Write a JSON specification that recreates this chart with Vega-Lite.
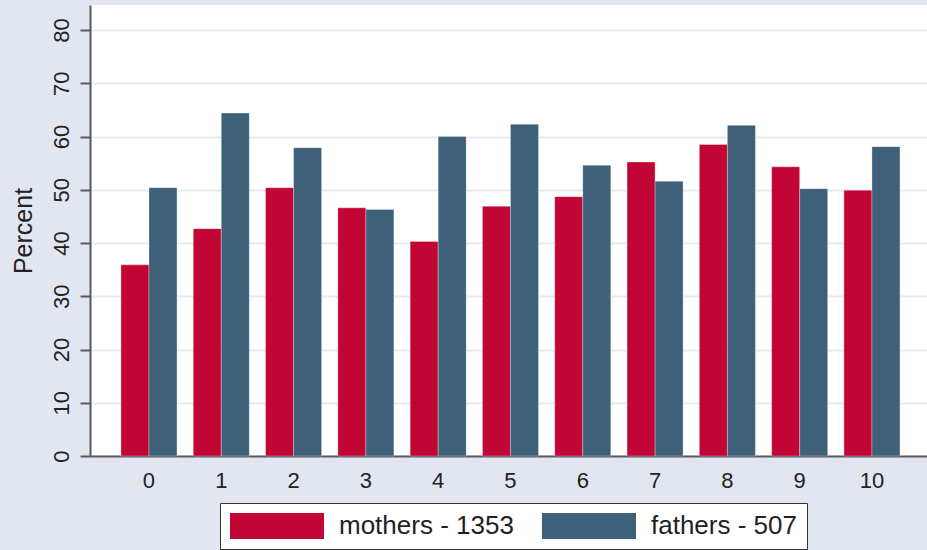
{
  "$schema": "https://vega.github.io/schema/vega-lite/v6.json",
  "width": 837,
  "height": 451,
  "autosize": "none",
  "padding": {"left": 90, "top": 5, "right": 0, "bottom": 94},
  "background": "#E2E6F0",
  "config": {"view": {"fill": "white", "stroke": null}, "font": "Liberation Sans"},
  "data": {"values": [
    {"group": 0, "parent": "mothers - 1353", "pct": 35.9},
    {"group": 0, "parent": "fathers - 507", "pct": 50.4},
    {"group": 1, "parent": "mothers - 1353", "pct": 42.7},
    {"group": 1, "parent": "fathers - 507", "pct": 64.4},
    {"group": 2, "parent": "mothers - 1353", "pct": 50.4},
    {"group": 2, "parent": "fathers - 507", "pct": 57.9},
    {"group": 3, "parent": "mothers - 1353", "pct": 46.6},
    {"group": 3, "parent": "fathers - 507", "pct": 46.3},
    {"group": 4, "parent": "mothers - 1353", "pct": 40.3},
    {"group": 4, "parent": "fathers - 507", "pct": 60.0},
    {"group": 5, "parent": "mothers - 1353", "pct": 46.9},
    {"group": 5, "parent": "fathers - 507", "pct": 62.3},
    {"group": 6, "parent": "mothers - 1353", "pct": 48.7},
    {"group": 6, "parent": "fathers - 507", "pct": 54.6},
    {"group": 7, "parent": "mothers - 1353", "pct": 55.2},
    {"group": 7, "parent": "fathers - 507", "pct": 51.6},
    {"group": 8, "parent": "mothers - 1353", "pct": 58.5},
    {"group": 8, "parent": "fathers - 507", "pct": 62.1},
    {"group": 9, "parent": "mothers - 1353", "pct": 54.3},
    {"group": 9, "parent": "fathers - 507", "pct": 50.2},
    {"group": 10, "parent": "mothers - 1353", "pct": 49.9},
    {"group": 10, "parent": "fathers - 507", "pct": 58.1}
  ]},
  "mark": {"type": "bar", "stroke": "white", "strokeOpacity": 0.3, "strokeWidth": 1},
  "encoding": {
    "x": {
      "field": "group", "type": "ordinal",
      "scale": {"paddingInner": 0.225, "paddingOuter": 0.401, "align": 0.534},
      "axis": {"title": null, "labelAngle": 0, "ticks": false, "labelFontSize": 22, "labelColor": "#222", "labelPadding": 14, "domainColor": "#5a5a5a", "domainWidth": 2, "grid": false}
    },
    "xOffset": {
      "field": "parent", "type": "nominal", "sort": ["mothers - 1353", "fathers - 507"],
      "scale": {"paddingInner": 0, "paddingOuter": 0}
    },
    "y": {
      "field": "pct", "type": "quantitative",
      "scale": {"domain": [0, 84.7], "nice": false, "zero": true},
      "axis": {
        "title": "Percent", "titleFontSize": 25, "titleFontWeight": "normal", "titleColor": "#222", "titlePadding": 14,
        "values": [0, 10, 20, 30, 40, 50, 60, 70, 80],
        "labelAngle": 270, "labelAlign": "center", "labelBaseline": "alphabetic", "labelFontSize": 22, "labelColor": "#222", "labelPadding": 12,
        "tickSize": 10, "tickWidth": 2, "tickColor": "#5a5a5a",
        "domainColor": "#5a5a5a", "domainWidth": 2,
        "grid": true, "gridColor": "#E6EAF2", "gridWidth": 2
      }
    },
    "color": {
      "field": "parent", "type": "nominal",
      "scale": {"domain": ["mothers - 1353", "fathers - 507"], "range": ["#C10534", "#3E6079"]},
      "legend": {
        "orient": "none", "legendX": 130, "legendY": 498, "direction": "horizontal", "title": null,
        "fillColor": "white", "strokeColor": "#333", "padding": 10,
        "symbolType": "M-3.615,-1H3.615V1H-3.615Z", "symbolSize": 676, "symbolStrokeWidth": 0, "symbolOffset": 34,
        "labelFontSize": 26, "labelOffset": 49, "labelLimit": 400, "columnPadding": 28, "labelColor": "#222"
      }
    }
  }
}
